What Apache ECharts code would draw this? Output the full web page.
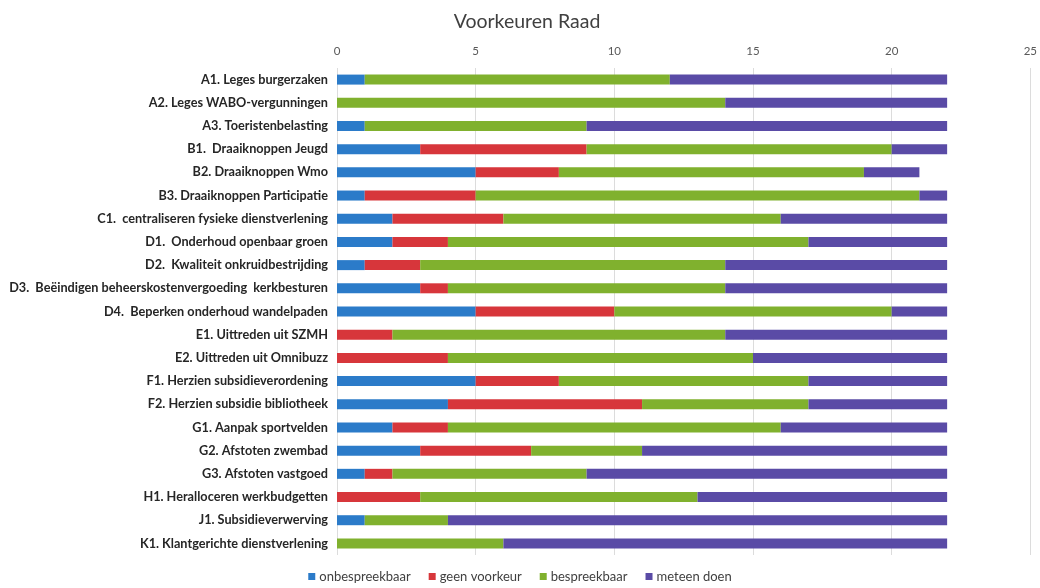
<!DOCTYPE html>
<html>
<head>
<meta charset="utf-8">
<script src="https://cdn.jsdelivr.net/npm/echarts@6/dist/echarts.min.js"></script>
<style>
  html, body { margin: 0; padding: 0; background: #ffffff; }
  #chart { width: 1040px; height: 588px; }
</style>
</head>
<body>
<div id="chart"></div>
<script>
const categories = [
  "A1. Leges burgerzaken",
  "A2. Leges WABO-vergunningen",
  "A3. Toeristenbelasting",
  "B1.  Draaiknoppen Jeugd",
  "B2. Draaiknoppen Wmo",
  "B3. Draaiknoppen Participatie",
  "C1.  centraliseren fysieke dienstverlening",
  "D1.  Onderhoud openbaar groen",
  "D2.  Kwaliteit onkruidbestrijding",
  "D3.  Beëindigen beheerskostenvergoeding  kerkbesturen",
  "D4.  Beperken onderhoud wandelpaden",
  "E1. Uittreden uit SZMH",
  "E2. Uittreden uit Omnibuzz",
  "F1. Herzien subsidieverordening",
  "F2. Herzien subsidie bibliotheek",
  "G1. Aanpak sportvelden",
  "G2. Afstoten zwembad",
  "G3. Afstoten vastgoed",
  "H1. Heralloceren werkbudgetten",
  "J1. Subsidieverwerving",
  "K1. Klantgerichte dienstverlening"
];
const seriesNames = ["onbespreekbaar", "geen voorkeur", "bespreekbaar", "meteen doen"];
const onbespreekbaar = [1, 0, 1, 3, 5, 1, 2, 2, 1, 3, 5, 0, 0, 5, 4, 2, 3, 1, 0, 1, 0];
const geenVoorkeur   = [0, 0, 0, 6, 3, 4, 4, 2, 2, 1, 5, 2, 4, 3, 7, 2, 4, 1, 3, 0, 0];
const bespreekbaar   = [11, 14, 8, 11, 11, 16, 10, 13, 11, 10, 10, 12, 11, 9, 6, 12, 4, 7, 10, 3, 6];
const meteenDoen     = [10, 8, 13, 2, 2, 1, 6, 5, 8, 8, 2, 8, 7, 5, 5, 6, 11, 13, 9, 18, 16];
const xTicks = [0, 5, 10, 15, 20, 25];

const colors = ["#2B7BC9", "#D7363B", "#80B12E", "#5A4BA6"];
const valuesList = [onbespreekbaar, geenVoorkeur, bespreekbaar, meteenDoen];

const chart = echarts.init(document.getElementById('chart'), null, { renderer: 'canvas' });
chart.setOption({
  animation: false,
  backgroundColor: '#ffffff',
  title: {
    text: 'Voorkeuren Raad',
    left: 522, top: 7, textAlign: 'center',
    textStyle: { fontFamily: 'Lato', fontSize: 19.5, fontWeight: 'normal', color: '#404040' }
  },
  legend: {
    bottom: 0, left: 'center',
    itemWidth: 7, itemHeight: 7, itemGap: 18,
    icon: 'rect',
    textStyle: { fontFamily: 'Lato', fontSize: 13, color: '#404040', padding: [0, 0, 0, -1] },
    data: seriesNames
  },
  grid: { left: 337, right: 9, top: 68, bottom: 33, containLabel: false },
  xAxis: {
    type: 'value', position: 'top',
    min: xTicks[0], max: xTicks[xTicks.length - 1], interval: 5,
    axisLine: { show: false }, axisTick: { show: false },
    axisLabel: { fontFamily: 'Lato', fontSize: 11.5, color: '#595959', margin: 11 },
    splitLine: { show: true, lineStyle: { color: '#dcdcdc', width: 1 } }
  },
  yAxis: {
    type: 'category', inverse: true, data: categories,
    axisLine: { show: false }, axisTick: { show: false },
    axisLabel: { fontFamily: 'Lato', fontSize: 12.7, fontWeight: 'bold', color: '#262626', margin: 9 }
  },
  series: seriesNames.map((n, i) => ({
    name: n, type: 'bar', stack: 'total', barWidth: 10,
    itemStyle: { color: colors[i] },
    data: valuesList[i]
  }))
});
</script>
</body>
</html>
